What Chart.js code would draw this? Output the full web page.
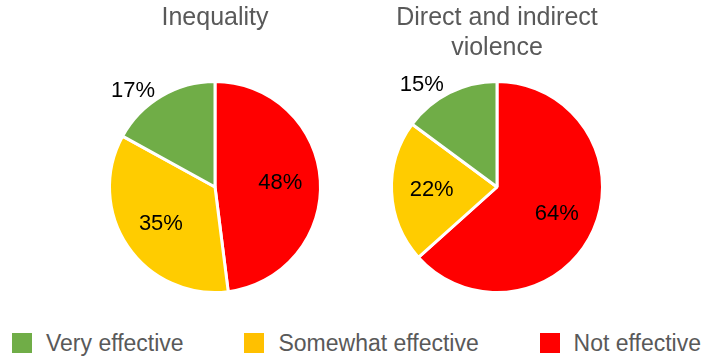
<!DOCTYPE html>
<html>
<head>
<meta charset="utf-8">
<script src="https://cdn.jsdelivr.net/npm/chart.js@4/dist/chart.umd.min.js"></script>
<style>
  html, body { margin: 0; padding: 0; background: #fff; }
  #wrap { position: relative; width: 702px; height: 357px; overflow: hidden; font-family: "Liberation Sans", Arial, sans-serif; }
  canvas { position: absolute; top: 0; }
  #left { left: 50px; }
  #right { left: 352px; }
  #legend { position: absolute; left: 12px; right: 1px; top: 330px; height: 26px; display: flex; justify-content: space-between; align-items: center; font-size: 23px; color: #595959; }
  .item { display: flex; align-items: center; white-space: nowrap; }
  .box { width: 20px; height: 20px; margin-right: 14px; }
</style>
</head>
<body>
<div id="wrap">
  <canvas id="left" width="330" height="300"></canvas>
  <canvas id="right" width="290" height="300"></canvas>
  <div id="legend"></div>
</div>
<script>
const categories = ['Very effective', 'Somewhat effective', 'Not effective']
const inequality = [17, 35, 48]
const violence = [15, 22, 64]
const titles = [['Inequality'], ['Direct and indirect', 'violence']]

const pieColors = ['#70AD47', '#FFCC00', '#FF0000']
const legendColors = ['#70AD47', '#FFC000', '#FF0000']

// percentage labels, inside for big slices, outside for small ones
const pctLabels = {
  id: 'pctLabels',
  afterDatasetsDraw (chart) {
    const ctx = chart.ctx
    const meta = chart.getDatasetMeta(0)
    const values = chart.data.datasets[0].data
    ctx.save()
    ctx.font = '22px "Liberation Sans", Arial, sans-serif'
    ctx.fillStyle = '#000'
    ctx.textAlign = 'center'
    ctx.textBaseline = 'middle'
    meta.data.forEach((arc, i) => {
      const { x, y, startAngle, endAngle, outerRadius } = arc.getProps(['x', 'y', 'startAngle', 'endAngle', 'outerRadius'], true)
      let mid = (startAngle + endAngle) / 2
      let r = outerRadius * 0.62
      if (values[i] < 20) {
        r = outerRadius * 1.2
        mid -= 0.17
      }
      ctx.fillText(values[i] + '%', x + Math.cos(mid) * r, y + Math.sin(mid) * r)
    })
    ctx.restore()
  }
}

function makePie (id, values, title) {
  // slices run clockwise from the top: Not, Somewhat, Very
  return new Chart(document.getElementById(id), {
    type: 'pie',
    data: {
      labels: [...categories].reverse(),
      datasets: [{
        data: [...values].reverse(),
        backgroundColor: [...pieColors].reverse(),
        borderColor: '#fff',
        borderWidth: 3
      }]
    },
    options: {
      responsive: false,
      animation: false,
      devicePixelRatio: 1,
      layout: { padding: { bottom: 6 } },
      plugins: {
        legend: { display: false },
        tooltip: { enabled: false },
        title: {
          display: true,
          text: title,
          color: '#595959',
          font: { family: '"Liberation Sans", Arial, sans-serif', size: 25, weight: 'normal', lineHeight: '30px' },
          padding: { top: 3, bottom: 80 - 3 - 30 * title.length }
        }
      }
    },
    plugins: [pctLabels]
  })
}

makePie('left', inequality, titles[0])
makePie('right', violence, titles[1])

const legend = document.getElementById('legend')
categories.forEach((c, i) => {
  const item = document.createElement('div')
  item.className = 'item'
  const box = document.createElement('span')
  box.className = 'box'
  box.style.background = legendColors[i]
  const txt = document.createElement('span')
  txt.textContent = c
  item.appendChild(box)
  item.appendChild(txt)
  legend.appendChild(item)
})
</script>
</body>
</html>
